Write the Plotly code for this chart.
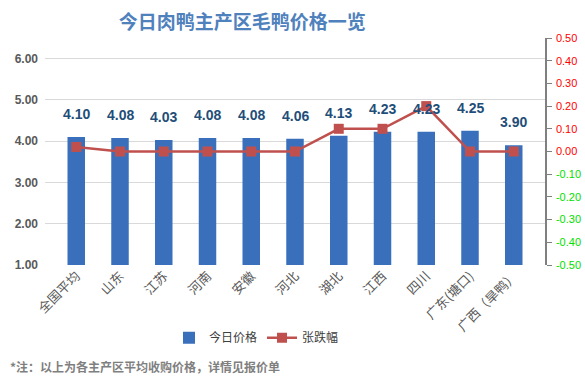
import plotly.graph_objects as go

categories = ["全国平均", "山东", "江苏", "河南", "安徽", "河北", "湖北", "江西", "四川", "广东(塘口)", "广西（旱鸭）"]
prices = [4.10, 4.08, 4.03, 4.08, 4.08, 4.06, 4.13, 4.23, 4.23, 4.25, 3.90]
changes = [0.02, 0.00, 0.00, 0.00, 0.00, 0.00, 0.10, 0.10, 0.20, 0.00, 0.00]
left_ticks = [1, 2, 3, 4, 5, 6]
right_ticks = [-0.5, -0.4, -0.3, -0.2, -0.1, 0.0, 0.1, 0.2, 0.3, 0.4, 0.5]

CJK = "Noto Sans CJK SC"
NUM = "Liberation Sans"

fig = go.Figure()
fig.add_trace(go.Bar(
    x=categories, y=prices, name="今日价格",
    marker=dict(color="#3a70bb", line=dict(width=0)),
    yaxis="y",
))
fig.add_trace(go.Scatter(
    x=categories, y=changes, name="张跌幅", mode="lines+markers",
    line=dict(color="#c0504d", width=2.5),
    marker=dict(symbol="square", size=10, color="#c0504d"),
    yaxis="y2",
))

for c, p in zip(categories, prices):
    fig.add_annotation(x=c, y=p, yref="y", text=f"{p:.2f}", showarrow=False,
                       yshift=23, font=dict(family=NUM, size=14, color="#1f4e79", weight="bold"))

right_text = [
    f"<span style='color:{'#ff0000' if v >= 0 else '#00e000'}'>{v:.2f}</span>" for v in right_ticks
]

fig.update_layout(
    width=585, height=391,
    margin=dict(l=45, r=40, t=38, b=126, autoexpand=False),
    paper_bgcolor="white", plot_bgcolor="white",
    title=dict(text="今日肉鸭主产区毛鸭价格一览", x=0.414, xanchor="center", y=0.944, yanchor="middle",
               font=dict(family=CJK, size=19, color="#4f81bd", weight="bold")),
    bargap=0.6,
    showlegend=True,
    legend=dict(orientation="h", x=0.423, xanchor="center", y=-0.32, yanchor="middle",
                font=dict(family=CJK, size=12, color="#404040"), itemwidth=30),
    xaxis=dict(tickangle=-45, tickfont=dict(family=CJK, size=13, color="#595959"),
               showgrid=False, showline=False, ticks=""),
    yaxis=dict(range=[1, 6.5], tickvals=left_ticks, ticktext=[f"{v:.2f}" for v in left_ticks],
               tickfont=dict(family=NUM, size=12, color="#595959", weight="bold"),
               showgrid=True, gridcolor="#d9d9d9", gridwidth=1, zeroline=False, showline=False,
               ticks="", ticklabelstandoff=6),
    yaxis2=dict(range=[-0.5, 0.5], overlaying="y", side="right", tickvals=right_ticks,
                ticktext=right_text, tickfont=dict(family=NUM, size=11),
                showgrid=False, zeroline=False, showline=True, linecolor="#808080", linewidth=1.5,
                ticks="outside", ticklen=5, tickcolor="#808080", ticklabelstandoff=2),
)

fig.add_annotation(xref="paper", yref="paper", x=-0.074, y=-0.445, xanchor="left", yanchor="middle",
                   text="*注：以上为各主产区平均收购价格，详情见报价单", showarrow=False,
                   font=dict(family=CJK, size=12, color="#7f7f7f", weight="bold"))

fig.write_html("out.html", config={"displayModeBar": False},
               post_script="document.body.style.margin='0';")
